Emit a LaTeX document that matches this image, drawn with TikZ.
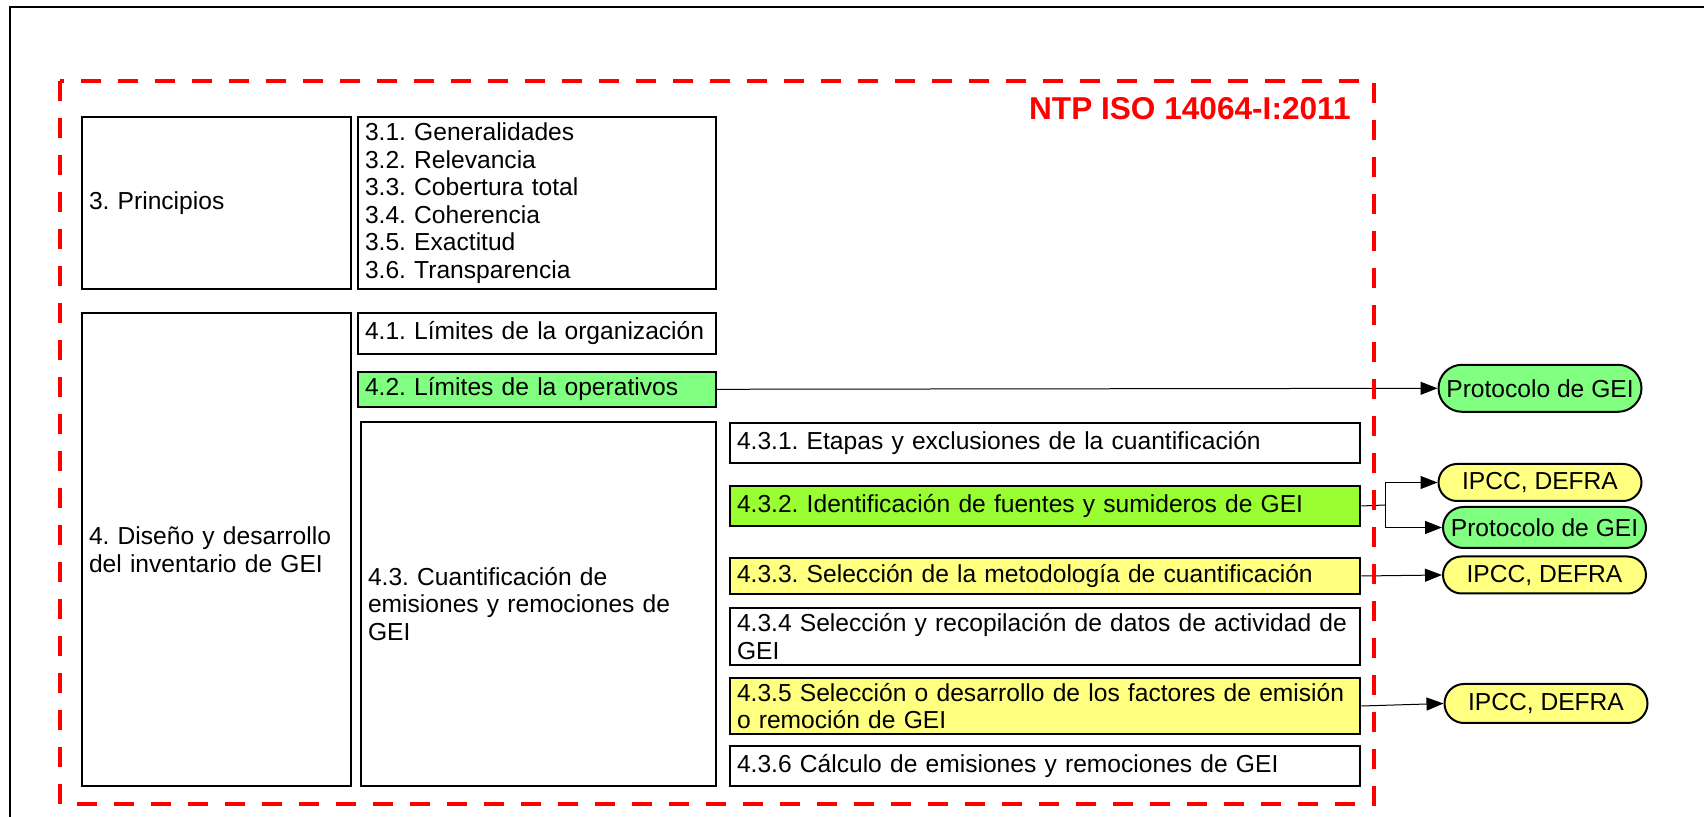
\documentclass[tikz,border=0pt]{standalone}
\usepackage{fontspec}
\setmainfont{Liberation Sans}
\usetikzlibrary{arrows.meta,shapes.misc}
\definecolor{verdeA}{HTML}{80FF80}
\definecolor{verdeB}{HTML}{99FF33}
\definecolor{amarillo}{HTML}{FFFF80}
\frenchspacing
\begin{document}
\begin{tikzpicture}[x=0.5pt, y=-0.5pt,
    caja/.style={draw, line width=1pt, anchor=north west, inner xsep=3.5pt, inner ysep=0pt,
      align=left, font=\fontsize{12.3}{13.75}\selectfont},
    fuente/.style={draw, line width=1pt, rounded rectangle, minimum width=101.5pt,
      inner sep=0pt, font=\fontsize{12.3}{13.75}\selectfont},
    flecha/.style={-{Triangle[length=8.5pt, width=6.5pt]}, line width=0.5pt}]
    \path[use as bounding box] (0,0) rectangle (1704,817);
    \draw[line width=1.2pt] (10,817) -- (10,7) -- (1704,7);

    % capitulo 3
    \node[caja, text width=127.5pt, minimum height=86pt] (principios) at (81,116) {3. Principios};
    \node[caja, text width=172pt, minimum height=86pt] (listaprin) at (357,116)
      {3.1. Generalidades\\3.2. Relevancia\\3.3. Cobertura total\\3.4. Coherencia\\3.5. Exactitud\\3.6. Transparencia};

    % capitulo 4
    \node[caja, text width=127.5pt, minimum height=236.5pt] (diseno) at (81,312)
      {4. Diseño y desarrollo\\del inventario de GEI};
    \node[caja, text width=172pt, minimum height=20.3pt] (limorg) at (357,312) {4.1. Límites de la organización};
    \node[caja, text width=172pt, minimum height=17.3pt, fill=verdeA] (limop) at (357,371) {4.2. Límites de la operativos};
    \node[caja, text width=170.5pt, minimum height=182pt] (cuantif) at (360,421)
      {4.3. Cuantificación de\\emisiones y remociones de\\GEI};

    \node[caja, text width=308.2pt, minimum height=20pt] (etapas) at (729,422) {4.3.1. Etapas y exclusiones de la cuantificación};
    \node[caja, text width=308.2pt, minimum height=20pt, fill=verdeB] (ident) at (729,485) {4.3.2. Identificación de fuentes y sumideros de GEI};
    \node[caja, text width=308.2pt, minimum height=18pt, fill=amarillo] (metod) at (729,557) {4.3.3. Selección de la metodología de cuantificación};
    \node[caja, text width=308.2pt, minimum height=28.5pt] (datos) at (729,607)
      {4.3.4 Selección y recopilación de datos de actividad de\\GEI};
    \node[caja, text width=308.2pt, minimum height=28pt, fill=amarillo] (factores) at (729,677)
      {4.3.5 Selección o desarrollo de los factores de emisión\\o remoción de GEI};
    \node[caja, text width=308.2pt, minimum height=20pt] (calculo) at (729,745) {4.3.6 Cálculo de emisiones y remociones de GEI};

    % fuentes externas
    \node[fuente, minimum height=23.5pt, fill=verdeA] (gei1) at (1540,388.3) {Protocolo de GEI};
    \node[fuente, minimum height=18.5pt, fill=amarillo] (ipcc1) at (1540,482.5) {IPCC, DEFRA};
    \node[fuente, minimum height=20.5pt, fill=verdeA] (gei2) at (1544.5,527.5) {Protocolo de GEI};
    \node[fuente, minimum height=18.5pt, fill=amarillo] (ipcc2) at (1544.5,575) {IPCC, DEFRA};
    \node[fuente, minimum height=19.5pt, fill=amarillo] (ipcc3) at (1546,703.5) {IPCC, DEFRA};

    \draw[flecha] (limop.east) -- (gei1.west);
    \coordinate (bif) at (1385,505);
    \draw[line width=0.5pt] (ident.east) -- (bif);
    \draw[flecha] (bif) |- (ipcc1.west);
    \draw[flecha] (bif) |- (gei2.west);
    \draw[flecha] (metod.east) -- (ipcc2.west);
    \draw[flecha] (factores.east) -- (ipcc3.west);

    % marco de la norma
    \draw[red, line width=2.25pt, dash pattern=on 10pt off 8.5pt] (60,81) rectangle (1374,804);
    \node[anchor=base east, inner sep=0pt, text=red, font=\bfseries\fontsize{15.8}{18}\selectfont] (norma) at (1351,120)
      {NTP ISO 14064-I:2011};
\end{tikzpicture}
\end{document}
